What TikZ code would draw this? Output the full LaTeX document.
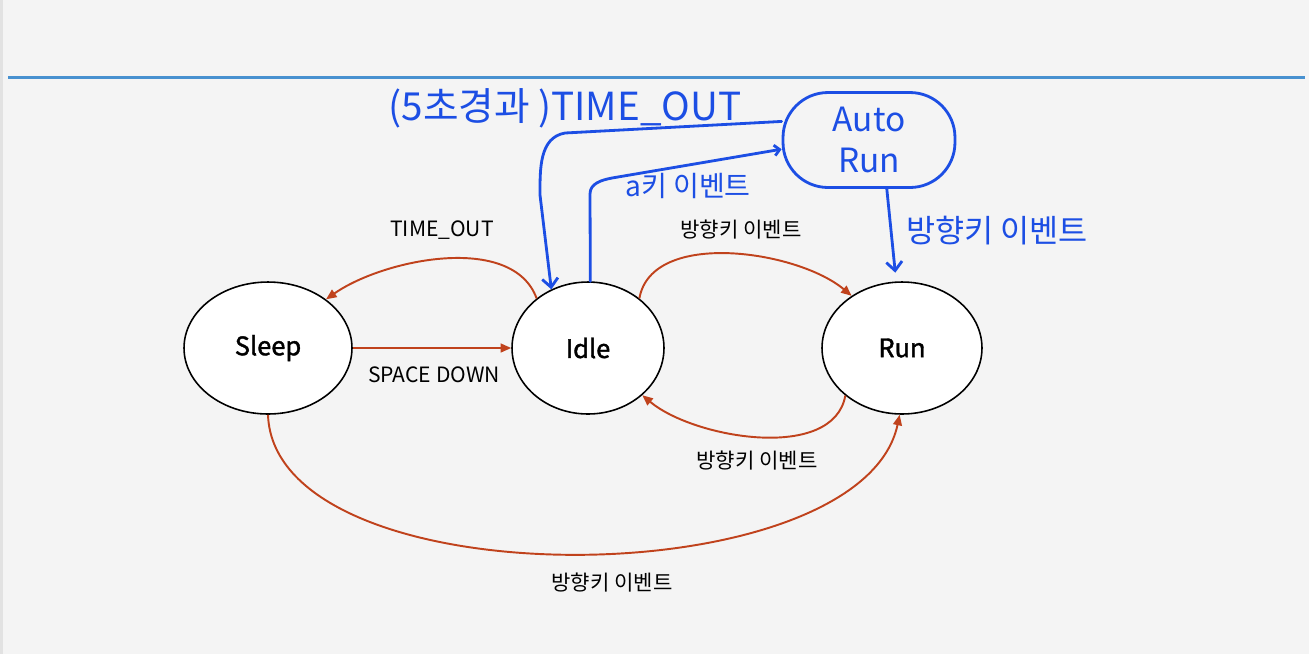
\documentclass[tikz,border=0pt]{standalone}
\usepackage{fontspec}
\setmainfont{Noto Sans CJK KR}
\newfontfamily\statefont{Noto Sans CJK KR}[FakeBold=1.5]
\usetikzlibrary{positioning,arrows.meta,shapes.geometric}
\definecolor{pagegrey}{RGB}{244,244,244}
\definecolor{edgegrey}{RGB}{226,226,226}
\definecolor{rulerblue}{RGB}{72,145,208}
\definecolor{rustred}{RGB}{192,66,28}
\definecolor{penblue}{RGB}{28,78,228}

\begin{document}
\begin{tikzpicture}[
    x=0.02cm, y=-0.02cm,
    font=\fontsize{12}{14}\selectfont,
    state/.style={
        ellipse,
        draw=black,
        fill=white,
        line width=0.9pt,
        minimum height=2.64cm,
        font=\fontsize{14.5}{17}\statefont
    },
    trans/.style={
        -{Triangle[length=6pt,width=5pt]},
        draw=rustred,
        line width=1.1pt
    },
    hand/.style={
        draw=penblue,
        line width=1.6pt,
        line cap=round,
        line join=round
    },
    handtip/.style={
        -{Straight Barb[length=5pt,width=9pt]}
    },
    handtext/.style={
        text=penblue,
        inner sep=0pt
    }
]

    % 0. Page background and ruler line
    \fill[pagegrey] (0,0) rectangle (1309,654);
    \fill[edgegrey] (0,0) rectangle (3,654);
    \useasboundingbox (0,0) rectangle (1309,654);
    \draw[rulerblue, line width=1.7pt] (8,77) -- (1305,77);

    % 1. States
    \node[state, minimum width=3.36cm] (sleep) at (268,348) {Sleep};
    \node[state, minimum width=3.04cm] (idle) at (588,348) {Idle};
    \node[state, minimum width=3.2cm] (run) at (902,348) {Run};

    % Hand-drawn auto run state
    \node[draw=penblue, line width=1.6pt, rounded corners=0.9cm,
          minimum width=3.44cm, minimum height=1.9cm, align=center,
          text=penblue, font=\fontsize{19}{23}\selectfont] (auto) at (869,140) {Auto\\Run};

    % 2. Transitions
    \draw[trans] (idle.136) to[out=110,in=35,looseness=0.85] (sleep.40);
    \draw[trans] (sleep) -- (idle);
    \draw[trans] (idle.44) to[out=80,in=140,looseness=0.85] (run.134);
    \draw[trans] (run.220) to[out=-100,in=-40,looseness=0.85] (idle.319);
    \draw[trans] (sleep.south) to[out=-88,in=-102,looseness=0.76] (run.268);

    % Transition labels
    \node (lbltimeout) at (442,230) {TIME\_OUT};
    \node (lblspace) at (434,375) {SPACE DOWN};
    \node (lbltop) at (741,230) {방향키 이벤트};
    \node (lblback) at (757,461) {방향키 이벤트};
    \node (lblbottom) at (612,583) {방향키 이벤트};

    % 3. Hand-drawn transitions
    \draw[hand, handtip] (auto.168) -- (565,133) to[out=190,in=90] (540,195) -- (idle.122);
    \draw[hand, -{Straight Barb[length=3pt,width=6pt]}] (idle.88) -- (590,194) to[out=90,in=191] (612,178) -- (auto.186);
    \draw[hand, handtip, shorten >=5pt] (auto.290) -- (run.95);

    % Hand-drawn labels
    \node[handtext, font=\fontsize{22}{26}\selectfont] (lblfive) at (565,108) {(5초경과 )TIME\_OUT};
    \node[handtext, font=\fontsize{16}{19}\selectfont] (lblakey) at (688,186) {a키 이벤트};
    \node[handtext, font=\fontsize{18}{21}\selectfont] (lblarrow) at (997,231) {방향키 이벤트};

\end{tikzpicture}
\end{document}
